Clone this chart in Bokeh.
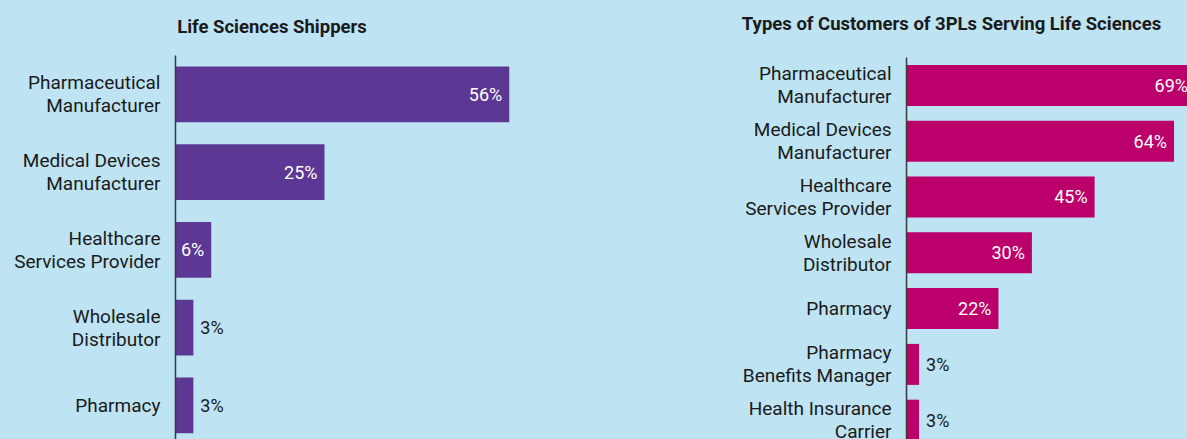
from bokeh.plotting import figure
from bokeh.layouts import row
from bokeh.models import ColumnDataSource, Range1d, Label
from bokeh.core.properties import value
from bokeh.embed import file_html
from bokeh.resources import INLINE

# ---- data ----
left_title = "Life Sciences Shippers"
left_categories = [
    "Pharmaceutical\nManufacturer",
    "Medical Devices\nManufacturer",
    "Healthcare\nServices Provider",
    "Wholesale\nDistributor",
    "Pharmacy",
]
left_values = [56, 25, 6, 3, 3]

right_title = "Types of Customers of 3PLs Serving Life Sciences"
right_categories = [
    "Pharmaceutical\nManufacturer",
    "Medical Devices\nManufacturer",
    "Healthcare\nServices Provider",
    "Wholesale\nDistributor",
    "Pharmacy",
    "Pharmacy\nBenefits Manager",
    "Health Insurance\nCarrier",
]
right_values = [69, 64, 45, 30, 22, 3, 3]

BG = "#BEE3F3"
TEXT = "#1a1a1a"
FONT = "Roboto"


def make_panel(title, cats, vals, color, width, height,
               x_start, x_end, y_top, y_bottom, bar_h, title_x, title_y):
    n = len(cats)
    ys = [i + 0.5 for i in range(n)]
    inside = [v >= 5 for v in vals]
    src = ColumnDataSource(dict(y=ys, v=vals, cat=cats))
    src_in = ColumnDataSource(dict(
        y=[y for y, k in zip(ys, inside) if k],
        v=[v for v, k in zip(vals, inside) if k],
        lab=[f"{v}%" for v, k in zip(vals, inside) if k],
    ))
    src_out = ColumnDataSource(dict(
        y=[y for y, k in zip(ys, inside) if not k],
        v=[v for v, k in zip(vals, inside) if not k],
        lab=[f"{v}%" for v, k in zip(vals, inside) if not k],
    ))
    p = figure(width=width, height=height, output_backend="svg",
               toolbar_location=None, x_axis_location=None,
               y_axis_location=None,
               x_range=Range1d(x_start, x_end),
               y_range=Range1d(y_bottom, y_top),
               min_border=0,
               styles={"background-color": BG})
    p.background_fill_color = BG
    p.border_fill_color = BG
    p.outline_line_color = None
    p.grid.visible = False

    p.add_layout(Label(text=title, x=title_x, y=title_y,
                       x_units="screen", y_units="screen",
                       text_align="center", text_baseline="middle",
                       text_font=FONT, text_font_style="bold",
                       text_font_size="18.5px", text_color=TEXT))

    p.hbar(y="y", left=0, right="v", height=bar_h, source=src,
           fill_color=color, line_color=None)
    # category axis line
    p.segment(x0=[0], y0=[0], x1=[0], y1=[n],
              line_color="#3a3a3a", line_width=1.5)
    p.text(x=0, y="y", text="cat", source=src, x_offset=-15,
           text_align="right", text_baseline="middle",
           text_font=value(FONT), text_font_size="19px",
           text_color=TEXT, text_line_height=1.0)
    p.text(x="v", y="y", text="lab", source=src_in, x_offset=-7,
           text_align="right", text_baseline="middle",
           text_font=value(FONT), text_font_size="18px",
           text_color="white")
    p.text(x="v", y="y", text="lab", source=src_out, x_offset=7,
           text_align="left", text_baseline="middle",
           text_font=value(FONT), text_font_size="18px",
           text_color=TEXT)
    return p


p1 = make_panel(left_title, left_categories, left_values, "#5C3894",
                600, 439, -29.36, 71.31, -0.7074, 4.939, 0.72, 271.5, 413)
p2 = make_panel(right_title, right_categories, right_values, "#BC006B",
                587, 439, -73.21, 67.22, -1.0215, 6.846, 0.735, 351, 415.5)

layout = row(p1, p2, spacing=0, styles={"background-color": BG})
html = file_html(layout, INLINE)
html = html.replace("<body>", f'<body style="background:{BG};">', 1)
open("out.html", "w").write(html)
